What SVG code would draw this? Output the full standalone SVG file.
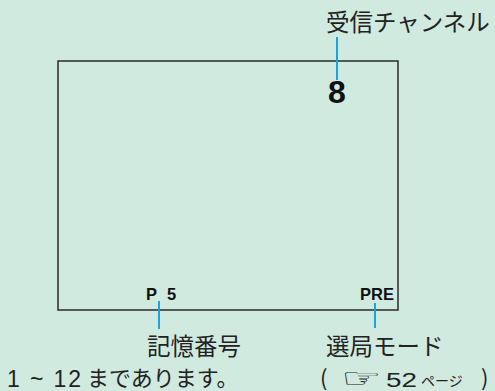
<svg xmlns="http://www.w3.org/2000/svg" width="495" height="391" viewBox="0 0 495 391">
  <style>
    .jp { font-family: "Noto Sans CJK JP", "Liberation Sans", sans-serif; fill: #222; }
    .num { font-family: "Liberation Sans", Arial, sans-serif; fill: #222; }
    .b { font-family: "Liberation Sans", Arial, sans-serif; font-weight: bold; fill: #111; }
    .lead { stroke: #1ba4dc; stroke-width: 2; fill: none; }
  </style>
  <rect width="495" height="391" fill="#d0eae0"/>
  <g id="screen">
    <rect x="58" y="61" width="340" height="249" fill="none" stroke="#2a2a2a" stroke-width="1.5"/>
  </g>
  <g id="connectors">
    <line class="lead" x1="337" y1="37" x2="337" y2="80"/>
    <line class="lead" x1="159" y1="301" x2="159" y2="329"/>
    <line class="lead" x1="375" y1="303" x2="375" y2="328"/>
  </g>
  <g id="channel">
    <text class="jp" x="326" y="31" font-size="23.5">受信チャンネル</text>
    <text class="b" x="337" y="103" font-size="32" text-anchor="middle">8</text>
  </g>
  <g id="memory">
    <text class="b" x="146" y="300" font-size="16.5">P</text>
    <text class="b" x="167" y="300" font-size="16.5">5</text>
    <text class="jp" x="147" y="355" font-size="23.5">記憶番号</text>
    <text class="num" x="7" y="387" font-size="23" textLength="74" lengthAdjust="spacing">1 ~ 12</text>
    <text class="jp" x="87" y="386" font-size="22">まであります。</text>
  </g>
  <g id="mode">
    <text class="b" x="394" y="300" font-size="16.5" text-anchor="end">PRE</text>
    <text class="jp" x="326" y="355" font-size="23.5">選局モード</text>
    <text class="jp" x="320" y="386" font-size="22">(</text>
    <text x="0" y="0" font-size="26" font-family="DejaVu Sans, sans-serif" fill="#222" transform="translate(341 387) scale(1.75 1)">☞</text>
    <text class="num" x="386" y="387" font-size="20.5" textLength="31" lengthAdjust="spacingAndGlyphs">52</text>
    <text class="jp" x="421" y="386" font-size="14">ページ</text>
    <text class="jp" x="481" y="386" font-size="22">)</text>
  </g>
</svg>
